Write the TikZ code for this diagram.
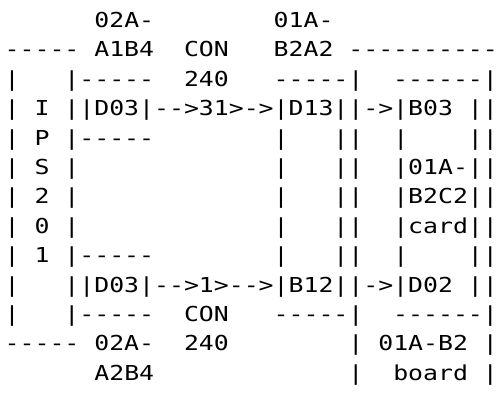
\documentclass[tikz,border=0pt]{standalone}
\usepackage{fontspec}
\setmonofont{DejaVu Sans Mono}[FakeStretch=1.205]
\usetikzlibrary{positioning}

\begin{document}
\begin{tikzpicture}[
  x=1pt, y=1pt,
  ascii/.style={font=\ttfamily\fontsize{20.6}{24}\selectfont,
                inner sep=0pt, anchor=base west},
  nextrow/.style={ascii, below=29.4pt of #1.base west, anchor=base west},
]
\useasboundingbox (0,0) rectangle (500,408);

% ---------- top labels ----------
\node[ascii] (r1) at (4.5,380.5) {~~~~~~02A-~~~~~~~~01A-};
\node[nextrow=r1] (r2)  {-----~A1B4~~CON~~~B2A2~----------};
\node[nextrow=r2] (r3)  {|~~~|-----~~240~~~-----|~~------|};

% ---------- upper link (31) ----------
\node[nextrow=r3] (r4)  {|~I~||D03|-->31>->|D13||->|B03~||};
\node[nextrow=r4] (r5)  {|~P~|-----~~~~~~~~|~~~||~~|~~~~||};

% ---------- IPS201 / card ----------
\node[nextrow=r5] (r6)  {|~S~|~~~~~~~~~~~~~|~~~||~~|01A-||};
\node[nextrow=r6] (r7)  {|~2~|~~~~~~~~~~~~~|~~~||~~|B2C2||};
\node[nextrow=r7] (r8)  {|~0~|~~~~~~~~~~~~~|~~~||~~|card||};
\node[nextrow=r8] (r9)  {|~1~|-----~~~~~~~~|~~~||~~|~~~~||};

% ---------- lower link (1) ----------
\node[nextrow=r9] (r10) {|~~~||D03|-->1>-->|B12||->|D02~||};
\node[nextrow=r10] (r11) {|~~~|-----~~CON~~~-----|~~------|};

% ---------- bottom labels ----------
\node[nextrow=r11] (r12) {-----~02A-~~240~~~~~~~~|~01A-B2~|};
\node[nextrow=r12] (r13) {~~~~~~A2B4~~~~~~~~~~~~~|~~board~|};

\end{tikzpicture}
\end{document}
